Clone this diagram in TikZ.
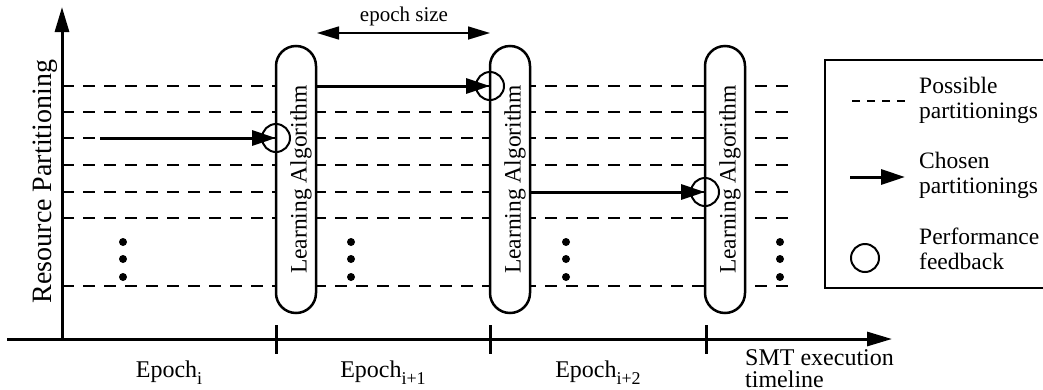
\documentclass[tikz,border=0pt]{standalone}
\usepackage{fontspec}
\setmainfont{Liberation Serif}
\usetikzlibrary{arrows.meta}
\newcommand\epsub[1]{\raisebox{-7pt}{\fontsize{18}{18}\selectfont #1}}
\begin{document}
\begin{tikzpicture}[x=1pt,y=-1pt,
  possible/.style={line width=2pt,dash pattern=on 12pt off 9pt},
  chosen/.style={line width=3pt,-{Triangle[length=24pt,width=15pt]}},
  pill/.style={draw,line width=2.5pt,fill=white,rounded corners=20pt,rotate=90,
    minimum width=267pt,minimum height=40pt,inner sep=0pt,
    font=\fontsize{23.5}{25}\selectfont,text height=21pt,text depth=0pt},
  feedback/.style={draw,circle,line width=2pt,minimum size=28pt,inner sep=0pt},
  axis/.style={line width=3pt},
  axisarrow/.style={axis,-{Triangle[length=25pt,width=14pt]}},
  tick/.style={line width=3pt},
  dot/.style={circle,fill,inner sep=0pt,minimum size=8pt},
  lbl/.style={font=\fontsize{24}{22}\selectfont,inner sep=0pt},
  legtext/.style={font=\fontsize{23.5}{25}\selectfont,align=left,inner sep=0pt,anchor=west}]
\clip (0,0) rectangle (1043,389);

% possible partitionings (dashed)
\foreach \yy/\nm in {86/a,112/b,138/c,165/d,192/e,218/f,286/g}{
  \coordinate (l\nm) at (62,\yy);
  \coordinate (r\nm) at (790,\yy);
  \draw[possible] (l\nm) -- (r\nm);
}

% learning algorithm pills
\node[pill] (p1) at (296,179.5) {Learning Algorithm};
\node[pill] (p2) at (510,179.5) {Learning Algorithm};
\node[pill] (p3) at (725,179.5) {Learning Algorithm};

% dots
\foreach \xx/\nm in {123/a,351/b,566/c,780/d}{
  \node[dot] (d1\nm) at (\xx,242) {};
  \node[dot] (d2\nm) at (\xx,259) {};
  \node[dot] (d3\nm) at (\xx,277) {};
}

% feedback circles
\node[feedback] (c1) at (276,138) {};
\node[feedback] (c2) at (490,86) {};
\node[feedback] (c3) at (705,192) {};

% chosen partitionings
\coordinate (s1) at (100,138);
\coordinate (s2) at (316,86);
\coordinate (s3) at (530,192);
\draw[chosen] (s1) -- (c1.center);
\draw[chosen] (s2) -- (c2.center);
\draw[chosen] (s3) -- (c3.center);

% epoch size
\coordinate (es1) at (317,33);
\coordinate (es2) at (490,33);
\draw[line width=1.6pt,{Triangle[length=22pt,width=13pt]}-{Triangle[length=22pt,width=13pt]}] (es1) -- (es2);
\node[font=\fontsize{21}{23}\selectfont,anchor=base,inner sep=0pt] (eslbl) at (404,21) {epoch size};

% axes
\coordinate (ybot) at (62,340);
\coordinate (ytop) at (62,7);
\coordinate (xl) at (7,339);
\coordinate (xr) at (892,339);
\draw[axisarrow] (ybot) -- (ytop);
\draw[axisarrow] (xl) -- (xr);
\foreach \xx/\nm in {276/a,490/b,706/c}{
  \coordinate (t\nm1) at (\xx,325);
  \coordinate (t\nm2) at (\xx,354);
  \draw[tick] (t\nm1) -- (t\nm2);
}

% axis labels
\node[rotate=90,anchor=base,font=\fontsize{28}{30}\selectfont,inner sep=0pt] (ylbl) at (51,181.5) {Resource Partitioning};
\node[lbl,anchor=base] (ep1) at (169,377) {Epoch\epsub{i}};
\node[lbl,anchor=base] (ep2) at (383,377) {Epoch\epsub{i+1}};
\node[lbl,anchor=base] (ep3) at (598,377) {Epoch\epsub{i+2}};
\node[lbl,anchor=north west,align=left] (tl) at (745,349) {SMT execution\\timeline};

% legend
\coordinate (lg1) at (1050,60);
\coordinate (lg2) at (825,60);
\coordinate (lg3) at (825,288);
\coordinate (lg4) at (1050,288);
\draw[line width=2pt] (lg1) -- (lg2) -- (lg3) -- (lg4);
\coordinate (lda) at (852,101);
\coordinate (ldb) at (907,101);
\draw[line width=1.5pt,dash pattern=on 8pt off 7pt] (lda) -- (ldb);
\coordinate (laa) at (850,177);
\coordinate (lab) at (905,177);
\draw[chosen] (laa) -- (lab);
\node[feedback] (lc) at (865,258) {};
\node[legtext] (lt1) at (919,100) {Possible\\partitionings};
\node[legtext] (lt2) at (919,175) {Chosen\\partitionings};
\node[legtext] (lt3) at (919,248.5) {Performance\\feedback};
\end{tikzpicture}
\end{document}
